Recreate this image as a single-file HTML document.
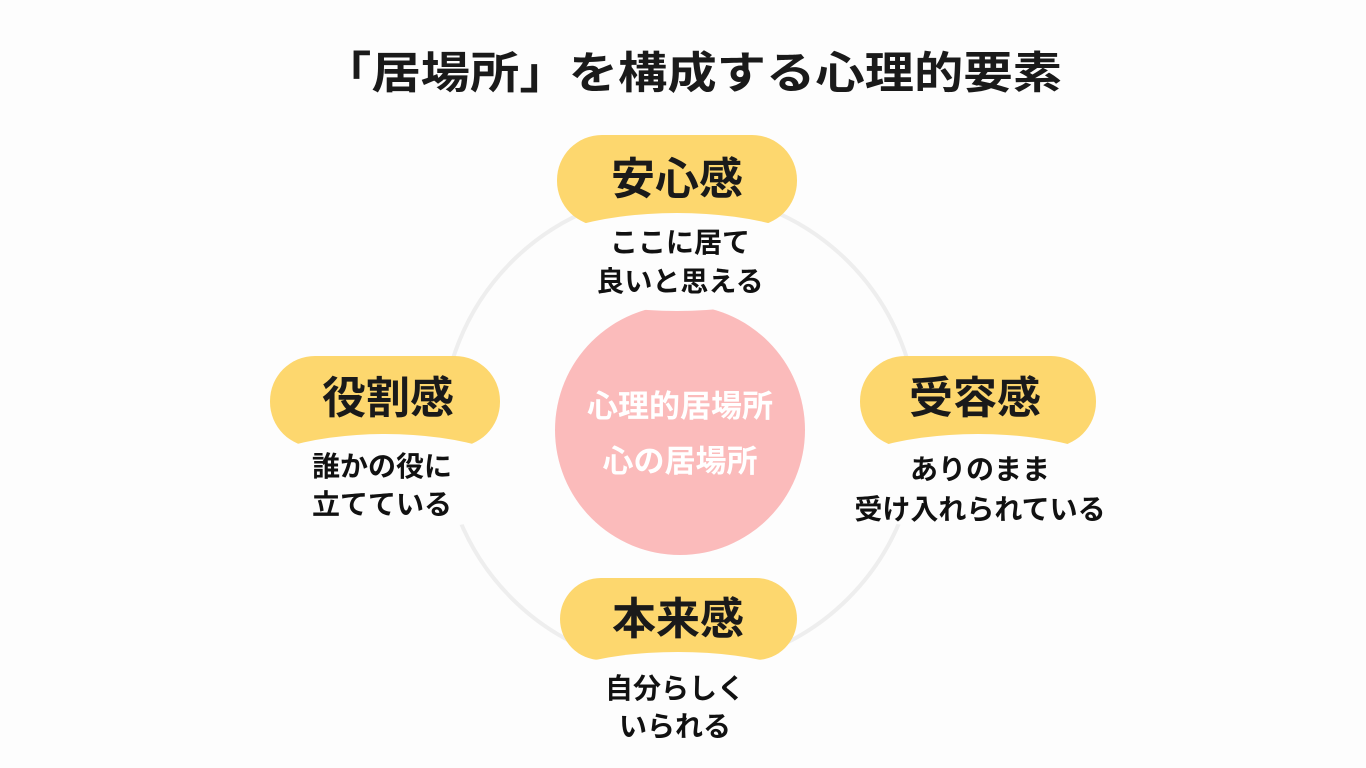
<!DOCTYPE html>
<html><head><meta charset="utf-8"><style>
html,body{margin:0;padding:0;background:#fdfdfd;}
svg{display:block;}
text{font-family:"Liberation Sans","Noto Sans CJK JP",sans-serif;font-weight:bold;}
</style></head><body>
<svg width="1366" height="768" viewBox="0 0 1366 768" xmlns="http://www.w3.org/2000/svg">
<rect width="1366" height="768" fill="#fdfdfd"/>
<text x="692" y="88" font-size="44" fill="#1a1a1a" text-anchor="middle" textLength="740" lengthAdjust="spacingAndGlyphs">「居場所」を構成する心理的要素</text>
<circle cx="680" cy="430" r="238" fill="none" stroke="#eeeeee" stroke-width="4"/>
<circle cx="680" cy="430" r="125" fill="#fbbbbb"/>
<text x="680" y="417" font-size="31" fill="#fff" text-anchor="middle">心理的居場所</text>
<text x="680" y="472" font-size="31" fill="#fff" text-anchor="middle">心の居場所</text>

<!-- top -->
<rect x="557" y="135" width="240" height="91" rx="45" fill="#fdd76e"/>
<ellipse cx="677" cy="262" rx="150" ry="49" fill="#fdfdfd"/>
<text x="677" y="194" font-size="44" fill="#1a1a1a" text-anchor="middle">安心感</text>
<text x="680" y="252" font-size="28" fill="#111" text-anchor="middle">ここに居て</text>
<text x="680" y="291" font-size="28" fill="#111" text-anchor="middle">良いと思える</text>

<!-- left -->
<rect x="270" y="356" width="230" height="91" rx="45" fill="#fdd76e"/>
<ellipse cx="385" cy="483" rx="145" ry="49" fill="#fdfdfd"/>
<text x="388" y="413" font-size="44" fill="#1a1a1a" text-anchor="middle">役割感</text>
<text x="382" y="476" font-size="28" fill="#111" text-anchor="middle">誰かの役に</text>
<text x="382" y="514" font-size="28" fill="#111" text-anchor="middle">立てている</text>

<!-- right -->
<rect x="860" y="356" width="236" height="91" rx="45" fill="#fdd76e"/>
<ellipse cx="978" cy="483" rx="148" ry="49" fill="#fdfdfd"/>
<text x="975" y="413" font-size="44" fill="#1a1a1a" text-anchor="middle">受容感</text>
<text x="980" y="479" font-size="28" fill="#111" text-anchor="middle">ありのまま</text>
<text x="980" y="519" font-size="28" fill="#111" text-anchor="middle">受け入れられている</text>

<!-- bottom -->
<rect x="560" y="578" width="237" height="82" rx="41" fill="#fdd76e"/>
<ellipse cx="678" cy="700" rx="150" ry="48" fill="#fdfdfd"/>
<text x="678" y="634" font-size="44" fill="#1a1a1a" text-anchor="middle">本来感</text>
<text x="675" y="698" font-size="28" fill="#111" text-anchor="middle">自分らしく</text>
<text x="675" y="736" font-size="28" fill="#111" text-anchor="middle">いられる</text>
</svg>
</body></html>
